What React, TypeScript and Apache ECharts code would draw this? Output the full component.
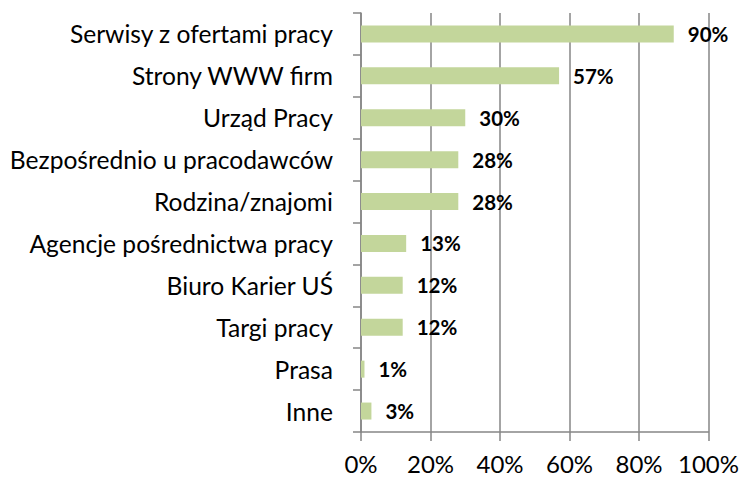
import React, { useEffect, useRef } from "react";
import * as echarts from "echarts";

const categories = [
  "Serwisy z ofertami pracy",
  "Strony WWW firm",
  "Urząd Pracy",
  "Bezpośrednio u pracodawców",
  "Rodzina/znajomi",
  "Agencje pośrednictwa pracy",
  "Biuro Karier UŚ",
  "Targi pracy",
  "Prasa",
  "Inne",
];
const values = [90, 57, 30, 28, 28, 13, 12, 12, 1, 3];
const xTicks = [0, 20, 40, 60, 80, 100];

const FONT = "Lato";
const GRAY = "#868686";

export default function App() {
  const ref = useRef<HTMLDivElement>(null);
  useEffect(() => {
    document.body.style.margin = "0";
    const chart = echarts.init(ref.current!, null, { renderer: "svg" });
    chart.setOption({
      animation: false,
      grid: { left: 361, right: 33, top: 13, bottom: 47 },
      xAxis: {
        type: "value",
        min: xTicks[0],
        max: xTicks[xTicks.length - 1],
        interval: 20,
        axisLine: { show: true, lineStyle: { color: GRAY, width: 1.5 } },
        axisTick: { show: true, length: 9, lineStyle: { color: GRAY, width: 1.5 } },
        splitLine: { show: true, lineStyle: { color: GRAY, width: 1.5 } },
        axisLabel: {
          formatter: "{value}%",
          color: "#000",
          fontFamily: FONT,
          fontSize: 24,
          margin: 19,
        },
      },
      yAxis: {
        type: "category",
        inverse: true,
        data: categories,
        axisLine: { show: true, lineStyle: { color: GRAY, width: 1.5 } },
        axisTick: { show: true, length: 8, alignWithLabel: false, lineStyle: { color: GRAY, width: 1.5 } },
        axisLabel: {
          color: "#000",
          fontFamily: FONT,
          fontSize: 24.6,
          margin: 28,
        },
      },
      series: [
        {
          type: "bar",
          data: values,
          barWidth: 17,
          itemStyle: { color: "#C3D69B" },
          label: {
            show: true,
            position: "right",
            distance: 14,
            formatter: "{c}%",
            color: "#000",
            fontFamily: FONT,
            fontWeight: "bold",
            fontSize: 20.5,
          },
        },
      ],
    });
    return () => chart.dispose();
  }, []);
  return <div ref={ref} style={{ width: 742, height: 479 }} />;
}
